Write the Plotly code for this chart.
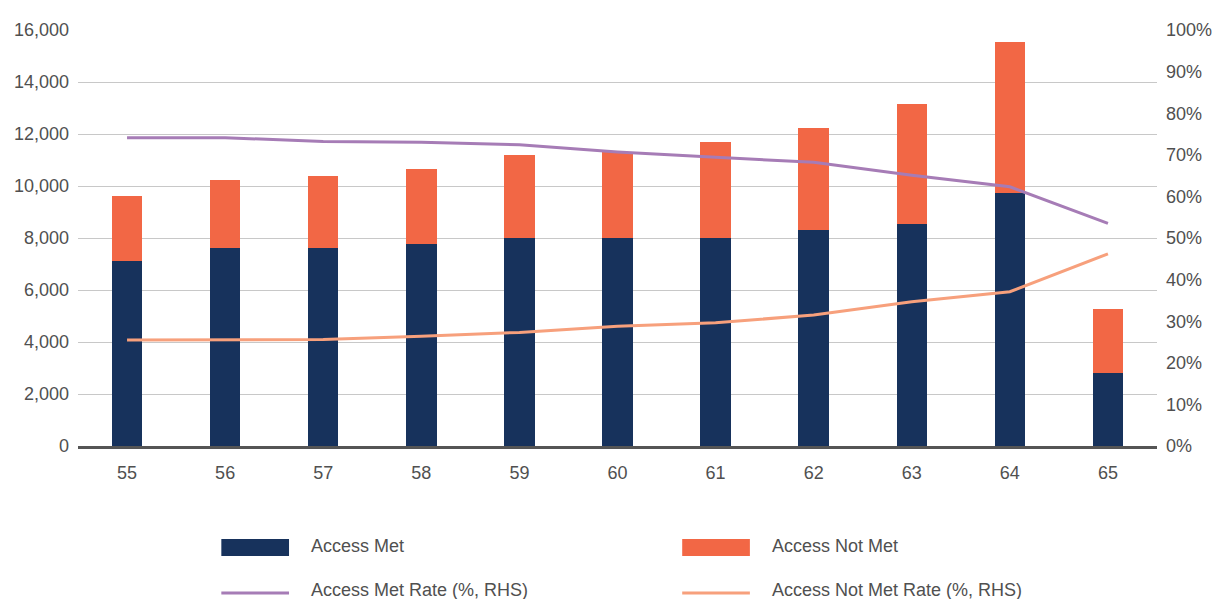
import plotly.graph_objects as go

# Age categories and counts
ages = ["55", "56", "57", "58", "59", "60", "61", "62", "63", "64", "65"]
access_met = [7100, 7630, 7630, 7760, 8010, 8010, 8010, 8310, 8550, 9740, 2800]
access_not_met = [2500, 2620, 2770, 2890, 3190, 3310, 3690, 3930, 4620, 5790, 2460]

# Rates (%, right-hand scale)
met_rate = [74.1, 74.1, 73.2, 73.0, 72.4, 70.7, 69.4, 68.2, 65.1, 62.3, 53.5]
not_met_rate = [25.5, 25.5, 25.6, 26.4, 27.3, 28.8, 29.6, 31.5, 34.7, 37.1, 46.2]

series_names = [
    "Access Met",
    "Access Not Met",
    "Access Met Rate (%, RHS)",
    "Access Not Met Rate (%, RHS)",
]

NAVY = "#17325c"
ORANGE = "#f26745"
PURPLE = "#a67cb6"
SALMON = "#f7a07c"
TEXT = "#505050"
FONT = "Liberation Sans, Arial, sans-serif"

W, H = 1224, 599
L, R, T, B = 78, 1162, 30, 446  # plot area edges in pixels

fig = go.Figure()
fig.add_trace(go.Bar(x=ages, y=access_met, name=series_names[0],
                     marker=dict(color=NAVY, line=dict(width=0))))
fig.add_trace(go.Bar(x=ages, y=access_not_met, name=series_names[1],
                     marker=dict(color=ORANGE, line=dict(width=0))))
fig.add_trace(go.Scatter(x=ages, y=met_rate, name=series_names[2], yaxis="y2",
                         mode="lines", line=dict(color=PURPLE, width=3)))
fig.add_trace(go.Scatter(x=ages, y=not_met_rate, name=series_names[3], yaxis="y2",
                         mode="lines", line=dict(color=SALMON, width=3)))


def px_x(p):
    return (p - L) / (R - L)


def px_y(p):
    return (B - p) / (B - T)


# Legend drawn below the plot: two columns, swatch then label
shapes = []
annotations = []
legend_cols = [222, 685]
legend_rows = [547, 591]
for i, name in enumerate(series_names):
    col = legend_cols[i % 2]
    row = legend_rows[i // 2]
    if i < 2:
        color = NAVY if i == 0 else ORANGE
        shapes.append(dict(type="rect", xref="paper", yref="paper",
                           x0=px_x(col), x1=px_x(col + 68),
                           y0=px_y(row - 8), y1=px_y(row + 9),
                           fillcolor=color, line=dict(width=0)))
    else:
        color = PURPLE if i == 2 else SALMON
        shapes.append(dict(type="line", xref="paper", yref="paper",
                           x0=px_x(col), x1=px_x(col + 68),
                           y0=px_y(row + 2), y1=px_y(row + 2),
                           line=dict(color=color, width=3)))
    annotations.append(dict(text=name, xref="paper", yref="paper",
                            x=px_x(col + 88), y=px_y(row - 1),
                            xanchor="left", yanchor="middle", showarrow=False,
                            font=dict(family=FONT, size=18, color=TEXT)))

fig.update_layout(
    width=W, height=H,
    margin=dict(l=L, r=W - R, t=T, b=H - B),
    barmode="stack",
    bargap=0.69,
    showlegend=False,
    plot_bgcolor="white",
    paper_bgcolor="white",
    font=dict(family=FONT, size=18, color=TEXT),
    shapes=shapes,
    annotations=annotations,
    xaxis=dict(type="category", showgrid=False, showline=True,
               linecolor="#555555", linewidth=3, ticks="",
               ticklabelstandoff=8, tickfont=dict(size=18, color=TEXT)),
    yaxis=dict(range=[0, 16000], dtick=2000, tickformat=",",
               showgrid=True, gridcolor="#c8c8c8", gridwidth=1,
               zeroline=False, showline=False, ticks="",
               ticklabelstandoff=8, tickfont=dict(size=18, color=TEXT)),
    yaxis2=dict(range=[0, 100], dtick=10, ticksuffix="%", overlaying="y",
                side="right", showgrid=False, zeroline=False, showline=False,
                ticks="", ticklabelstandoff=8,
                tickfont=dict(size=18, color=TEXT)),
)

fig.write_html("out.html")
